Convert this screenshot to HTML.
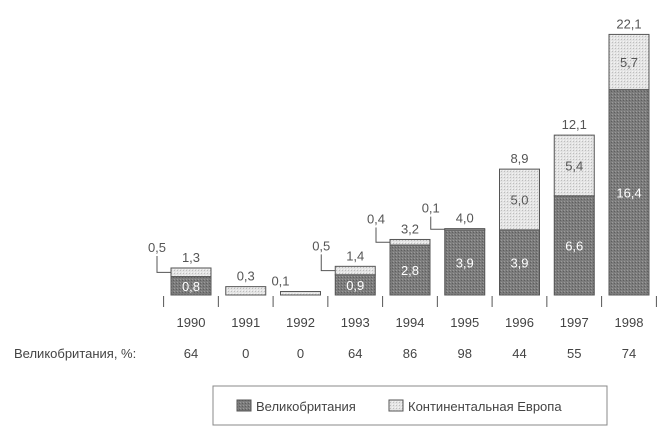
<!DOCTYPE html>
<html><head><meta charset="utf-8"><style>
body{margin:0;background:#fff;width:659px;height:436px;overflow:hidden}
svg{display:block;font-family:"Liberation Sans",sans-serif}
</style></head><body>
<svg id="c" width="659" height="436">
<defs>
<pattern id="pd" width="3" height="3" patternUnits="userSpaceOnUse"><rect width="3" height="3" fill="#7c7c7c"/><rect width="1" height="1" fill="#9a9a9a"/><rect x="2" y="1" width="1" height="1" fill="#5e5e5e"/></pattern>
<pattern id="pl" width="3" height="3" patternUnits="userSpaceOnUse"><rect width="3" height="3" fill="#e4e4e4"/><rect width="1" height="1" fill="#bdbdbd"/><rect x="2" y="2" width="1" height="1" fill="#f4f4f4"/></pattern>
</defs>
<g id="bars"></g>
<text x="14" y="358" font-size="13" fill="#444">Великобритания, %:</text>
<rect x="213" y="386" width="394" height="39" fill="#fff" stroke="#888"/>
<rect x="237" y="400" width="14" height="11" fill="url(#pd)" stroke="#555"/>
<text x="256" y="411" font-size="13" fill="#444">Великобритания</text>
<rect x="389" y="400" width="14" height="11" fill="url(#pl)" stroke="#555"/>
<text x="408" y="411" font-size="13" fill="#444">Континентальная Европа</text>
</svg>
<script>
const years=["1990","1991","1992","1993","1994","1995","1996","1997","1998"];
const uk=[0.8,0,0,0.9,2.8,3.9,3.9,6.6,16.4];
const europe=[0.5,0.3,0.1,0.5,0.4,0.1,5.0,5.4,5.7];
const totals=["1,3","0,3","0,1","1,4","3,2","4,0","8,9","12,1","22,1"];
const ukPct=["64","0","0","64","86","98","44","55","74"];
const NS="http://www.w3.org/2000/svg";
const g=document.getElementById('bars');
const base=295;
function x(i){return 191+i*54.75;}
function y(v){return base-21.9*Math.pow(v,0.8);}
const fmt=v=>v.toFixed(1).replace('.',',');
function mk(tag,attrs,txt){const e=document.createElementNS(NS,tag);for(const k in attrs)e.setAttribute(k,attrs[k]);if(txt!==undefined)e.textContent=txt;g.appendChild(e);return e;}
const w=40;
for(let i=0;i<years.length;i++){
  const cx=x(i),t=uk[i]+europe[i];
  const yu=y(uk[i]),yt=y(t);
  const r1=mk('rect',{x:cx-w/2,y:yt,width:w,height:yu-yt,fill:'url(#pl)',stroke:'#555','stroke-width':1});
  
  
  if(uk[i]>0){
    const r2=mk('rect',{x:cx-w/2,y:yu,width:w,height:base-yu,fill:'url(#pd)',stroke:'#555','stroke-width':1});
    
    
    const l=mk('text',{x:cx,y:(yu+base)/2+5,'text-anchor':'middle','font-size':13,fill:'#fff'},fmt(uk[i]));
    
    
  }
  if(europe[i]>=1){
    const l=mk('text',{x:cx,y:(yt+yu)/2+5,'text-anchor':'middle','font-size':13,fill:'#555'},fmt(europe[i]));
    
    
  } else if(uk[i]>0){
    const ly=(yt+yu)/2;
    mk('polyline',{points:`${cx-34},${yt-12} ${cx-34},${ly} ${cx-w/2},${ly}`,fill:'none',stroke:'#555'});
    const l=mk('text',{x:cx-34,y:yt-16,'text-anchor':'middle','font-size':13,fill:'#555'},fmt(europe[i]));
    
    
  }
  const tl=mk('text',{x:(i==2?cx-20:cx),y:yt-6,'text-anchor':'middle','font-size':13,fill:'#555'},totals[i]);
  
  
  mk('line',{x1:cx-27.4,y1:296,x2:cx-27.4,y2:307,stroke:'#555'});
  const yl=mk('text',{x:cx,y:327,'text-anchor':'middle','font-size':13,fill:'#444'},years[i]);
  
  
  const pl=mk('text',{x:cx,y:358,'text-anchor':'middle','font-size':13,fill:'#444'},ukPct[i]);
  
  
}
mk('line',{x1:x(8)+27.4,y1:296,x2:x(8)+27.4,y2:307,stroke:'#555'});
</script>
</body></html>
